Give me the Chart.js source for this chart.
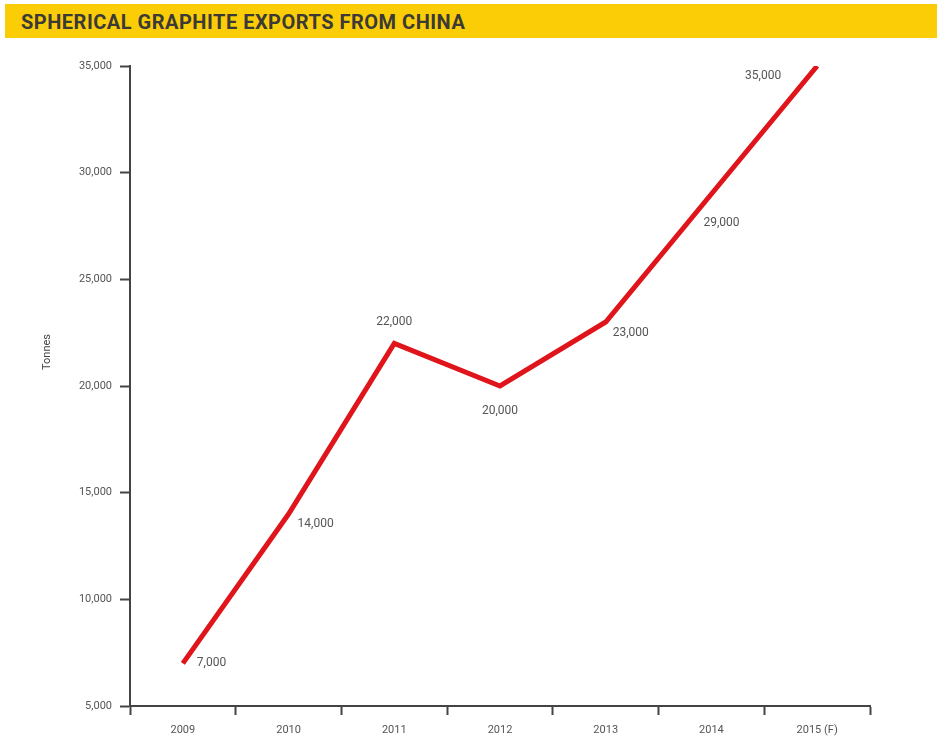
<!DOCTYPE html>
<html>
<head>
<meta charset="utf-8">
<script src="https://cdn.jsdelivr.net/npm/chart.js@4.4.1/dist/chart.umd.min.js"></script>
<style>
  body { margin: 0; background: #fff; }
  #wrap { position: relative; width: 937px; height: 740px; }
  #banner {
    position: absolute; left: 5px; top: 4px; width: 932px; height: 34px;
    background: #fbcd06; color: #3b3a36;
    font: bold 20px Roboto, "Liberation Sans", sans-serif;
    line-height: 36px; padding-left: 16px; box-sizing: border-box;
    letter-spacing: 0.5px;
  }
  canvas { position: absolute; left: 0; top: 0; }
</style>
</head>
<body>
<div id="wrap">
  <div id="banner">SPHERICAL GRAPHITE EXPORTS FROM CHINA</div>
  <canvas id="exportsChart" width="937" height="740"></canvas>
</div>
<script>
var years = ["2009", "2010", "2011", "2012", "2013", "2014", "2015 (F)"];
var tonnes = [7000, 14000, 22000, 20000, 23000, 29000, 35000];
var yTicks = [5000, 10000, 15000, 20000, 25000, 30000, 35000];

// where each value label sits relative to its point
var labelPos = [
    { dx: 14, dy: 0, align: "left" },
    { dx: 9, dy: 10, align: "left" },
    { dx: 0, dy: -21, align: "center" },
    { dx: 0, dy: 25, align: "center" },
    { dx: 7, dy: 11, align: "left" },
    { dx: -8, dy: 29, align: "left" },
    { dx: -36, dy: 10, align: "right" }
];

function fmt(v) {
    return v.toLocaleString("en-US");
}

var valueLabels = {
    id: "valueLabels",
    afterDatasetsDraw: function (chart) {
        var ctx = chart.ctx;
        var pts = chart.getDatasetMeta(0).data;
        ctx.save();
        ctx.font = "12px Roboto, sans-serif";
        ctx.fillStyle = "#555";
        ctx.textBaseline = "middle";
        pts.forEach(function (p, i) {
            var lp = labelPos[i];
            ctx.textAlign = lp.align;
            ctx.fillText(fmt(tonnes[i]), p.x + lp.dx, p.y + lp.dy);
        });
        // axis title
        ctx.translate(47, 352);
        ctx.rotate(-Math.PI / 2);
        ctx.textAlign = "center";
        ctx.font = "11px Roboto, sans-serif";
        ctx.fillStyle = "#444";
        ctx.fillText("Tonnes", 0, 0);
        ctx.restore();
    }
};

var ctx = document.getElementById("exportsChart").getContext("2d");
var myChart = new Chart(ctx, {
    type: "line",
    data: {
        labels: years,
        datasets: [{
            data: tonnes,
            borderColor: "#e0141b",
            borderWidth: 5,
            pointRadius: 0,
            fill: false,
            tension: 0
        }]
    },
    options: {
        responsive: false,
        animation: false,
        layout: { padding: { top: 66, right: 67, left: 0, bottom: 0 } },
        plugins: {
            legend: { display: false },
            tooltip: { enabled: false }
        },
        scales: {
            x: {
                offset: true,
                grid: {
                    offset: true,
                    drawOnChartArea: false,
                    drawTicks: true,
                    tickLength: 9,
                    tickWidth: 2,
                    tickColor: "#444"
                },
                border: { color: "#444", width: 2 },
                ticks: {
                    color: "#555",
                    font: { family: "Roboto", size: 11 },
                    padding: 9,
                    maxRotation: 0
                },
                afterFit: function (s) { s.height = 34; }
            },
            y: {
                min: 5000,
                max: 35000,
                afterBuildTicks: function (s) {
                    s.ticks = yTicks.map(function (v) { return { value: v }; });
                },
                grid: {
                    drawOnChartArea: false,
                    tickLength: 10,
                    tickWidth: 2,
                    tickColor: "#444"
                },
                border: { color: "#444", width: 2 },
                ticks: {
                    color: "#555",
                    font: { family: "Roboto", size: 11 },
                    padding: 8,
                    callback: function (v) { return fmt(v); }
                },
                afterFit: function (s) { s.width = 130; }
            }
        }
    },
    plugins: [valueLabels]
});
</script>
</body>
</html>
